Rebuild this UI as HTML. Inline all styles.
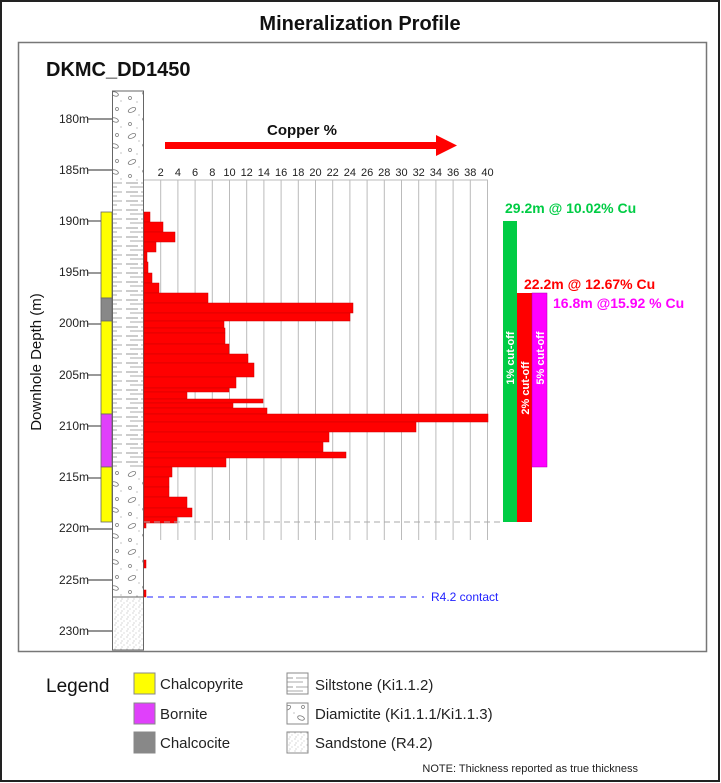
<!DOCTYPE html>
<html><head><meta charset="utf-8"><style>
html,body{margin:0;padding:0;background:#fff;}
svg{display:block;font-family:"Liberation Sans",sans-serif;}
</style></head><body>
<svg width="721" height="783" viewBox="0 0 721 783" xmlns="http://www.w3.org/2000/svg">
<defs>
<pattern id="silt" width="31" height="9" patternUnits="userSpaceOnUse">
<rect width="31" height="9" fill="#fff"/>
<line x1="2" y1="3" x2="14" y2="3" stroke="#999" stroke-width="1"/>
<line x1="17" y1="3" x2="29" y2="3" stroke="#aaa" stroke-width="1"/>
<line x1="6" y1="7" x2="24" y2="7" stroke="#aaa" stroke-width="1"/>
</pattern>
<pattern id="diam" width="31" height="26" patternUnits="userSpaceOnUse">
<rect width="31" height="26" fill="#fff"/>
<ellipse cx="8" cy="6" rx="4" ry="2" fill="none" stroke="#777" stroke-width="0.8" transform="rotate(-25 8 6)"/>
<ellipse cx="22" cy="16" rx="3.5" ry="2" fill="none" stroke="#777" stroke-width="0.8" transform="rotate(20 22 16)"/>
<circle cx="24" cy="5" r="1.5" fill="none" stroke="#777" stroke-width="0.7"/>
<circle cx="6" cy="20" r="1.5" fill="none" stroke="#777" stroke-width="0.7"/>
<circle cx="15" cy="11" r="0.6" fill="#999"/><circle cx="28" cy="23" r="0.6" fill="#999"/><circle cx="13" cy="24" r="0.6" fill="#999"/>
</pattern>
<pattern id="sand" width="6" height="6" patternUnits="userSpaceOnUse">
<rect width="6" height="6" fill="#fff"/>
<circle cx="1" cy="1" r="0.5" fill="#999"/><circle cx="4" cy="3" r="0.5" fill="#aaa"/><circle cx="2" cy="5" r="0.5" fill="#999"/>
</pattern>
</defs>
<rect x="1" y="1" width="718" height="780" fill="#fff" stroke="#222" stroke-width="2"/>
<text x="360" y="30" font-size="20" font-weight="bold" text-anchor="middle" fill="#111">Mineralization Profile</text>
<rect x="18.5" y="42.5" width="688" height="609" fill="none" stroke="#777" stroke-width="1.5"/>
<text x="46" y="76" font-size="20" font-weight="bold" fill="#111">DKMC_DD1450</text>
<text transform="translate(41 362) rotate(-90)" font-size="15" text-anchor="middle" fill="#111">Downhole Depth (m)</text>

<!-- grid -->
<g stroke="#bbb" stroke-width="1">
<line x1="144" y1="180" x2="488" y2="180"/>
<line x1="160.7" y1="180" x2="160.7" y2="540"/><line x1="177.9" y1="180" x2="177.9" y2="540"/><line x1="195.1" y1="180" x2="195.1" y2="540"/><line x1="212.3" y1="180" x2="212.3" y2="540"/><line x1="229.5" y1="180" x2="229.5" y2="540"/><line x1="246.7" y1="180" x2="246.7" y2="540"/><line x1="263.9" y1="180" x2="263.9" y2="540"/><line x1="281.1" y1="180" x2="281.1" y2="540"/><line x1="298.3" y1="180" x2="298.3" y2="540"/><line x1="315.5" y1="180" x2="315.5" y2="540"/><line x1="332.7" y1="180" x2="332.7" y2="540"/><line x1="349.9" y1="180" x2="349.9" y2="540"/><line x1="367.1" y1="180" x2="367.1" y2="540"/><line x1="384.3" y1="180" x2="384.3" y2="540"/><line x1="401.5" y1="180" x2="401.5" y2="540"/><line x1="418.7" y1="180" x2="418.7" y2="540"/><line x1="435.9" y1="180" x2="435.9" y2="540"/><line x1="453.1" y1="180" x2="453.1" y2="540"/><line x1="470.3" y1="180" x2="470.3" y2="540"/><line x1="487.5" y1="180" x2="487.5" y2="540"/>
</g>
<g font-size="11" fill="#222" text-anchor="middle">
<text x="160.7" y="176">2</text><text x="177.9" y="176">4</text><text x="195.1" y="176">6</text><text x="212.3" y="176">8</text><text x="229.5" y="176">10</text><text x="246.7" y="176">12</text><text x="263.9" y="176">14</text><text x="281.1" y="176">16</text><text x="298.3" y="176">18</text><text x="315.5" y="176">20</text><text x="332.7" y="176">22</text><text x="349.9" y="176">24</text><text x="367.1" y="176">26</text><text x="384.3" y="176">28</text><text x="401.5" y="176">30</text><text x="418.7" y="176">32</text><text x="435.9" y="176">34</text><text x="453.1" y="176">36</text><text x="470.3" y="176">38</text><text x="487.5" y="176">40</text>
</g>
<text x="302" y="135" font-size="15" font-weight="bold" text-anchor="middle" fill="#111">Copper %</text>
<rect x="165" y="142" width="272" height="7" fill="#f00"/>
<polygon points="436,135 457,145.5 436,156" fill="#f00"/>

<!-- depth ticks -->
<g font-size="12" fill="#222" text-anchor="end" stroke="none">
<text x="89" y="123">180m</text><text x="89" y="174">185m</text><text x="89" y="225">190m</text><text x="89" y="276">195m</text><text x="89" y="327">200m</text><text x="89" y="379">205m</text><text x="89" y="430">210m</text><text x="89" y="481">215m</text><text x="89" y="532">220m</text><text x="89" y="584">225m</text><text x="89" y="635">230m</text>
</g>
<g stroke="#555" stroke-width="1.2">
<line x1="88" y1="119" x2="112" y2="119"/><line x1="88" y1="170" x2="112" y2="170"/><line x1="88" y1="221" x2="101" y2="221"/><line x1="88" y1="273" x2="101" y2="273"/><line x1="88" y1="324" x2="101" y2="324"/><line x1="88" y1="375" x2="101" y2="375"/><line x1="88" y1="426" x2="101" y2="426"/><line x1="88" y1="478" x2="101" y2="478"/><line x1="88" y1="529" x2="112" y2="529"/><line x1="88" y1="580" x2="112" y2="580"/><line x1="88" y1="631" x2="112" y2="631"/>
</g>

<!-- lithology -->
<rect x="112.5" y="91" width="31" height="90" fill="url(#diam)"/>
<rect x="112.5" y="181" width="31" height="286" fill="url(#silt)"/>
<rect x="112.5" y="467" width="31" height="130" fill="url(#diam)"/>
<rect x="112.5" y="597" width="31" height="53" fill="url(#sand)"/>
<rect x="112.5" y="91" width="31" height="559" fill="none" stroke="#666" stroke-width="1"/>
<line x1="112" y1="597" x2="144" y2="597" stroke="#666"/>

<!-- mineral column -->
<g stroke="#666" stroke-width="0.8">
<rect x="101" y="212" width="11" height="86" fill="#ff0"/>
<rect x="101" y="298" width="11" height="23" fill="#888"/>
<rect x="101" y="321" width="11" height="93" fill="#ff0"/>
<rect x="101" y="414" width="11" height="53" fill="#e040fb"/>
<rect x="101" y="467" width="11" height="55" fill="#ff0"/>
</g>

<!-- bars -->
<g fill="#f00" stroke="#c00" stroke-width="0.5">
<rect x="144" y="212" width="6" height="10"/>
<rect x="144" y="222" width="19" height="10"/>
<rect x="144" y="232" width="31" height="10"/>
<rect x="144" y="242" width="12" height="10"/>
<rect x="144" y="252" width="3" height="10"/>
<rect x="144" y="262" width="4" height="11"/>
<rect x="144" y="273" width="8" height="10"/>
<rect x="144" y="283" width="15" height="10"/>
<rect x="144" y="293" width="64" height="10"/>
<rect x="144" y="303" width="209" height="10"/>
<rect x="144" y="313" width="206" height="8"/>
<rect x="144" y="321" width="80" height="7"/>
<rect x="144" y="328" width="81" height="5"/>
<rect x="144" y="333" width="81" height="11"/>
<rect x="144" y="344" width="85" height="10"/>
<rect x="144" y="354" width="104" height="9"/>
<rect x="144" y="363" width="110" height="14"/>
<rect x="144" y="377" width="92" height="11"/>
<rect x="144" y="388" width="85" height="4"/>
<rect x="144" y="392" width="43" height="7"/>
<rect x="144" y="399" width="119" height="4"/>
<rect x="144" y="403" width="89" height="5"/>
<rect x="144" y="408" width="123" height="6"/>
<rect x="144" y="414" width="344" height="8"/>
<rect x="144" y="422" width="272" height="10"/>
<rect x="144" y="432" width="185" height="10"/>
<rect x="144" y="442" width="179" height="10"/>
<rect x="144" y="452" width="202" height="6"/>
<rect x="144" y="458" width="82" height="9"/>
<rect x="144" y="467" width="28" height="10"/>
<rect x="144" y="477" width="25" height="10"/>
<rect x="144" y="487" width="25" height="10"/>
<rect x="144" y="497" width="43" height="11"/>
<rect x="144" y="508" width="48" height="9"/>
<rect x="144" y="517" width="33" height="6"/>
<rect x="144" y="523" width="2" height="5"/>
<rect x="144" y="560" width="2" height="8"/>
<rect x="144" y="590" width="2" height="7"/>
</g>

<line x1="144" y1="522" x2="500" y2="522" stroke="#aaa" stroke-dasharray="6,4"/>
<line x1="147" y1="597" x2="424" y2="597" stroke="#22f" stroke-dasharray="6,5"/>
<text x="431" y="601" font-size="12" fill="#22f">R4.2 contact</text>

<!-- cutoffs -->
<rect x="503" y="221" width="14" height="301" fill="#00cc44"/>
<rect x="517" y="293" width="15" height="229" fill="#f00"/>
<rect x="532" y="293" width="15" height="174" fill="#f0f" stroke="#a0a" stroke-width="0.5"/>
<g font-size="11" font-weight="bold" fill="#fff" text-anchor="middle">
<text transform="translate(514 358) rotate(-90)">1% cut-off</text>
<text transform="translate(529 388) rotate(-90)">2% cut-off</text>
<text transform="translate(544 358) rotate(-90)">5% cut-off</text>
</g>
<g font-size="14" font-weight="bold">
<text x="505" y="213" fill="#00cc44">29.2m @ 10.02% Cu</text>
<text x="524" y="289" fill="#f00">22.2m @ 12.67% Cu</text>
<text x="553" y="308" fill="#f0f">16.8m @15.92  % Cu</text>
</g>

<!-- legend -->
<text x="46" y="692" font-size="19" fill="#111">Legend</text>
<g stroke="#888" stroke-width="1">
<rect x="134" y="673" width="21" height="21" fill="#ff0"/>
<rect x="134" y="703" width="21" height="21" fill="#e040fb"/>
<rect x="134" y="732" width="21" height="21" fill="#888"/>
<rect x="287" y="673" width="21" height="21" fill="url(#silt)"/>
<rect x="287" y="703" width="21" height="21" fill="url(#diam)"/>
<rect x="287" y="732" width="21" height="21" fill="url(#sand)"/>
</g>
<g font-size="15" fill="#222">
<text x="160" y="689">Chalcopyrite</text>
<text x="160" y="719">Bornite</text>
<text x="160" y="748">Chalcocite</text>
<text x="315" y="690">Siltstone (Ki1.1.2)</text>
<text x="315" y="719">Diamictite (Ki1.1.1/Ki1.1.3)</text>
<text x="315" y="748">Sandstone (R4.2)</text>
</g>
<text x="638" y="772" font-size="11" fill="#222" text-anchor="end">NOTE: Thickness reported as true thickness</text>
</svg>
</body></html>
